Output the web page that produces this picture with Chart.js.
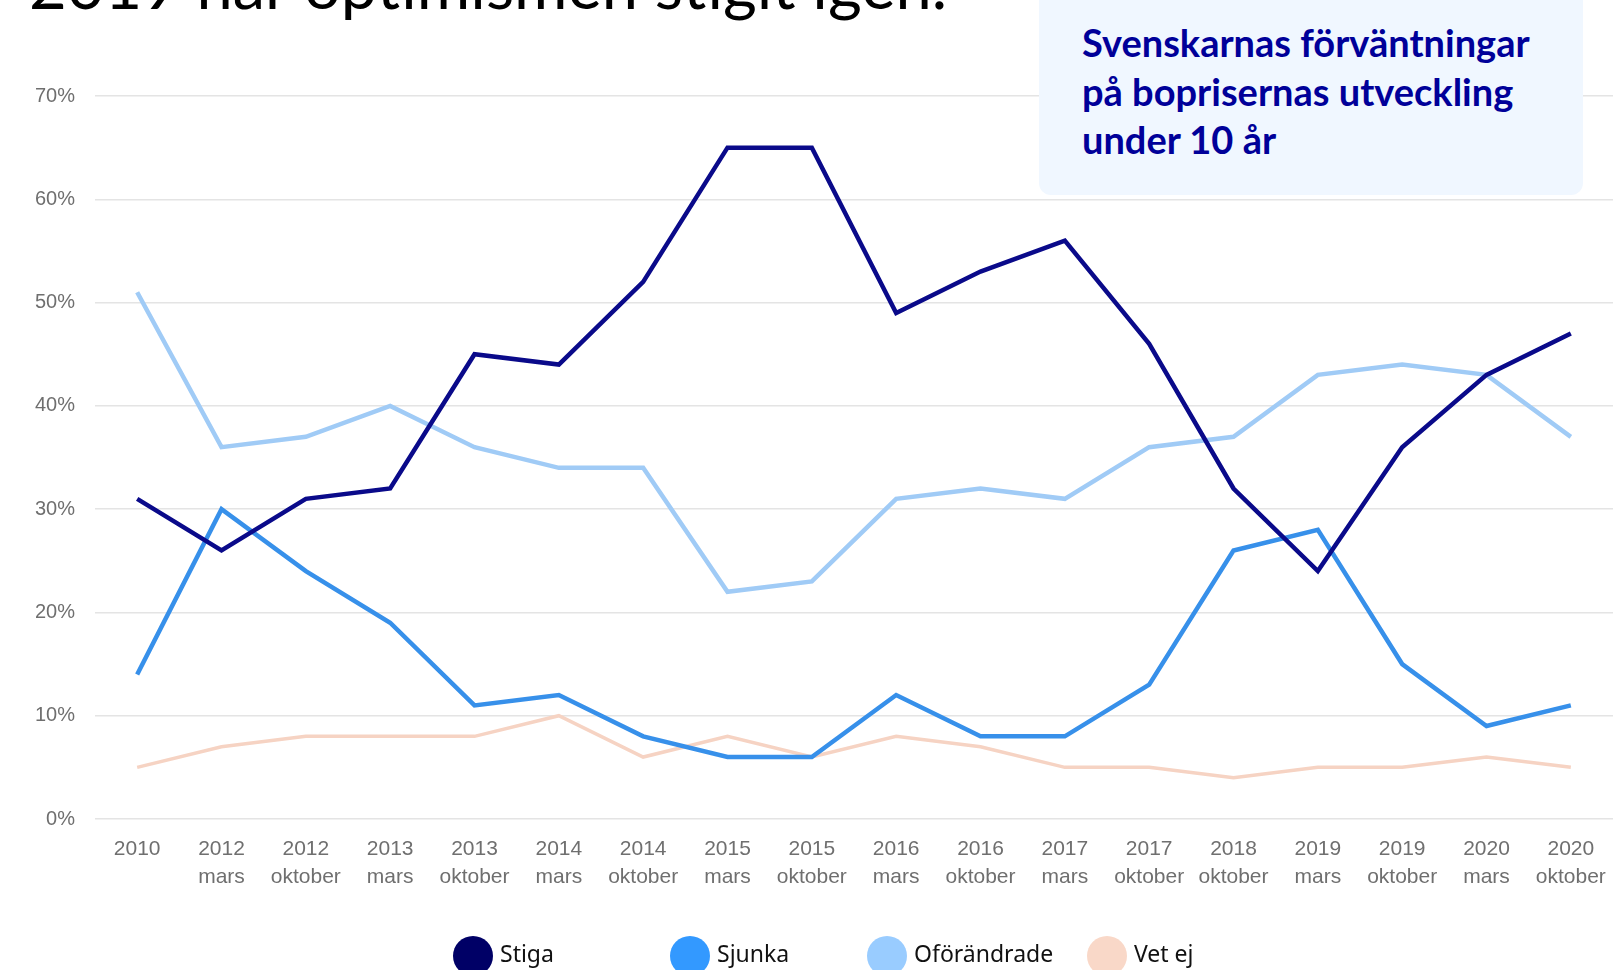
<!DOCTYPE html>
<html lang="sv">
<head>
<meta charset="utf-8">
<title>Svenskarnas förväntningar på boprisernas utveckling</title>
<script src="https://cdn.jsdelivr.net/npm/chart.js@4.4.1/dist/chart.umd.min.js"></script>
<style>
  html, body { margin: 0; padding: 0; background: #fff; overflow: hidden; }
  #wrap { position: relative; width: 1615px; height: 970px; }
  #chart { position: absolute; left: 0; top: 0; }
  .rubrik {
    position: absolute; left: 29px; top: -48px;
    font-family: Lato, "Open Sans", sans-serif; font-size: 65px;
    color: #000; white-space: nowrap; line-height: 1;
  }
  .faktaruta {
    position: absolute; left: 1039px; top: -20px; width: 544px; height: 215px;
    background: #f0f7ff; border-radius: 12px; box-sizing: border-box;
    padding: 38px 0 0 43px;
    font-family: Lato, "Noto Sans", sans-serif; font-weight: 700; font-size: 38px;
    line-height: 48.5px; color: #000099; white-space: nowrap;
  }
  .forklaring { position: absolute; left: 0; top: 0; width: 100%; height: 100%; pointer-events: none; }
  .forklaring .punkt { position: absolute; width: 40px; height: 40px; border-radius: 50%; }
  .forklaring .namn {
    position: absolute; font-family: "Noto Sans", sans-serif; font-size: 23px;
    color: #111; line-height: 1; white-space: nowrap;
  }
</style>
</head>
<body>
<div id="wrap">
  <canvas id="chart" width="1615" height="970"></canvas>
  <div class="rubrik">2019 har optimismen stigit igen.</div>
  <div class="faktaruta">Svenskarnas förväntningar<br>på boprisernas utveckling<br>under 10 år</div>
  <div class="forklaring" id="forklaring"></div>
</div>
<script>
// --- Mätpunkter (år + månad), två rader per etikett ---
const matningar = [
  ['2010'], ['2012', 'mars'], ['2012', 'oktober'], ['2013', 'mars'], ['2013', 'oktober'],
  ['2014', 'mars'], ['2014', 'oktober'], ['2015', 'mars'], ['2015', 'oktober'],
  ['2016', 'mars'], ['2016', 'oktober'], ['2017', 'mars'], ['2017', 'oktober'],
  ['2018', 'oktober'], ['2019', 'mars'], ['2019', 'oktober'], ['2020', 'mars'], ['2020', 'oktober']
];

// --- Andel svarande (%) ---
const stiga       = [31, 26, 31, 32, 45, 44, 52, 65, 65, 49, 53, 56, 46, 32, 24, 36, 43, 47];
const sjunka      = [14, 30, 24, 19, 11, 12, 8, 6, 6, 12, 8, 8, 13, 26, 28, 15, 9, 11];
const oforandrade = [51, 36, 37, 40, 36, 34, 34, 22, 23, 31, 32, 31, 36, 37, 43, 44, 43, 37];
const vetEj       = [5, 7, 8, 8, 8, 10, 6, 8, 6, 8, 7, 5, 5, 4, 5, 5, 6, 5];

const serienamn = ['Stiga', 'Sjunka', 'Oförändrade', 'Vet ej'];
const yTicks = [0, 10, 20, 30, 40, 50, 60, 70];

// färger: linje i diagrammet resp. cirkel i förklaringen
const linjefarger = ['#0a0a8a', '#3790ea', '#a0cbf6', '#f6d3c3'];
const punktfarger = ['#000066', '#3399ff', '#99ccff', '#f9d8c8'];
const linjebredd = [4.5, 4.5, 4.5, 3.5];

const serier = [stiga, sjunka, oforandrade, vetEj];

const ctx = document.getElementById('chart').getContext('2d');

const diagram = new Chart(ctx, {
  type: 'line',
  data: {
    labels: matningar,
    datasets: serier.map((data, i) => ({
      label: serienamn[i],
      data: data,
      borderColor: linjefarger[i],
      borderWidth: linjebredd[i],
      pointRadius: 0,
      tension: 0,
      fill: false,
      borderJoinStyle: 'miter'
    }))
  },
  options: {
    responsive: false,
    animation: false,
    layout: { padding: { top: 96, right: 2, left: 0, bottom: 0 } },
    plugins: { legend: { display: false }, tooltip: { enabled: false } },
    scales: {
      x: {
        offset: true,
        grid: { display: false },
        border: { display: false },
        ticks: {
          color: '#6f6f6f',
          padding: 9,
          maxRotation: 0,
          autoSkip: false,
          font: { family: '"Liberation Sans", Arial, sans-serif', size: 21, lineHeight: 1.3 }
        },
        afterFit: (scale) => { scale.height = 151; }
      },
      y: {
        min: 0,
        max: 70,
        grid: { color: '#e4e4e4', lineWidth: 1.5, drawTicks: false },
        border: { display: false },
        ticks: {
          color: '#6f6f6f',
          padding: 20,
          stepSize: 10,
          callback: (v) => (yTicks.includes(v) ? v + '%' : ''),
          font: { family: '"Liberation Sans", Arial, sans-serif', size: 20 }
        },
        afterFit: (scale) => { scale.width = 95; }
      }
    }
  }
});

// --- Förklaring under diagrammet, byggd från dataserierna ---
const forklaringX = [473, 690, 887, 1107]; // cirkelns mittpunkt
const forklaring = document.getElementById('forklaring');
diagram.data.datasets.forEach((ds, i) => {
  const punkt = document.createElement('div');
  punkt.className = 'punkt';
  punkt.style.left = (forklaringX[i] - 20) + 'px';
  punkt.style.top = '936px';
  punkt.style.background = punktfarger[i];
  forklaring.appendChild(punkt);

  const namn = document.createElement('div');
  namn.className = 'namn';
  namn.textContent = ds.label;
  namn.style.left = (forklaringX[i] + 27) + 'px';
  namn.style.top = '942px';
  forklaring.appendChild(namn);
});
</script>
</body>
</html>
